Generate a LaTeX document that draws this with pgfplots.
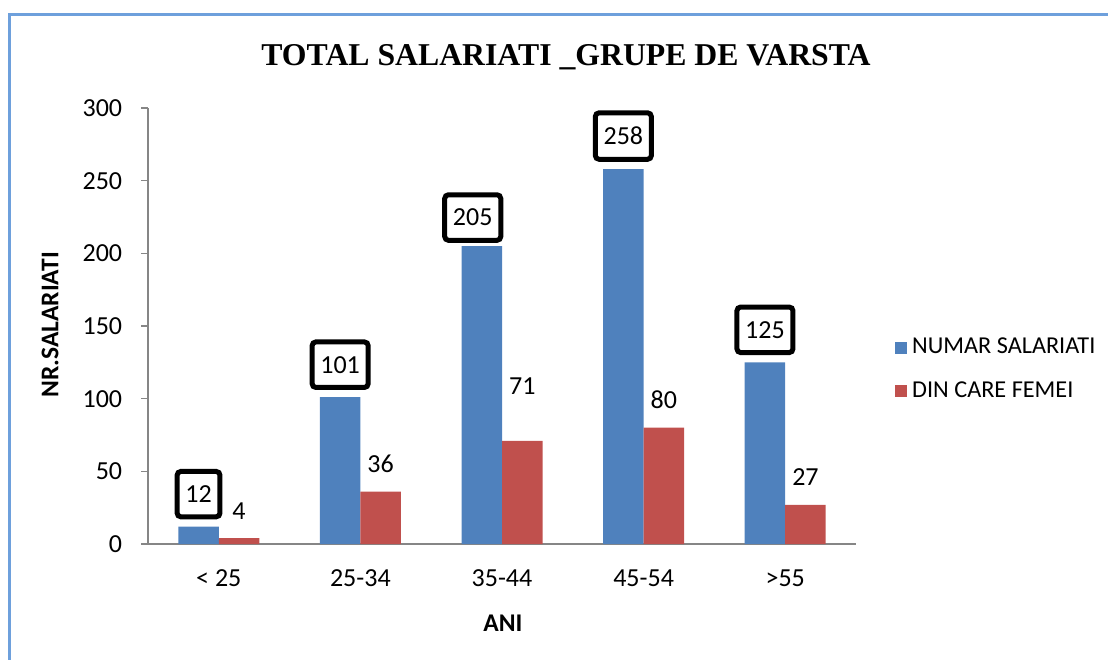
\documentclass[border=0pt]{standalone}
\usepackage{pgfplots}
\usepackage{pgfplotstable}
\pgfplotsset{compat=1.18}
\usepackage{fontspec}
\setmainfont{Carlito}
\newfontfamily\titlefont{Liberation Serif}
\definecolor{xblue}{RGB}{79,129,189}
\definecolor{xred}{RGB}{192,80,77}
\definecolor{axgray}{RGB}{134,134,134}
\definecolor{frameblue}{RGB}{110,160,220}
\pgfplotstableread{
x y dx dy
0 12 0 0
1 101 0 0
2 205 -3.6 -1.6
3 258 0 0
4 125 0 0
}\numar
\pgfplotstableread{
x y dx dy
0 4 0 0
1 36 0 0
2 71 0 10.8
3 80 0 0
4 27 0 0
}\femei
\begin{document}
\begin{tikzpicture}
\useasboundingbox (0,0) rectangle (443.2pt,-264pt);
\draw[frameblue, line width=1.2pt] (3.6pt,-264pt) -- (3.6pt,-6pt) -- (443.2pt,-6pt);
\node[font=\titlefont\fontsize{12.7}{15}\selectfont\bfseries] at (226.4pt,-23pt) {TOTAL SALARIATI \_GRUPE DE VARSTA};
\node[font=\fontsize{10.2}{12}\selectfont\bfseries, rotate=90] at (20pt,-130pt) {NR.SALARIATI};
\node[font=\fontsize{10.2}{12}\selectfont\bfseries] at (201.2pt,-249.4pt) {ANI};
\begin{axis}[
  at={(59.2pt,-217.6pt)}, anchor=south west,
  scale only axis, width=283.2pt, height=174.4pt,
  xmin=-0.5, xmax=4.5, ymin=0, ymax=300,
  axis x line*=bottom, axis y line*=left,
  axis line style={axgray, line width=0.6pt},
  every tick/.style={axgray, line width=0.6pt},
  tick align=outside,
  major tick length=2.8pt,
  ytick={0,50,...,300},
  xtick={0,1,2,3,4},
  xticklabels={< 25,25-34,35-44,45-54,>55},
  x tick style={draw=none},
  extra x ticks={-0.5,0.5,1.5,2.5,3.5,4.5},
  extra x tick labels={},
  extra x tick style={tick style={axgray, draw=axgray}, major tick length=2.8pt},
  tick label style={font=\fontsize{10.4}{12}\selectfont},
  /pgf/number format/assume math mode=true,
  yticklabel style={xshift=-4pt},
  xticklabel style={yshift=-3.8pt},
  ybar=0pt, bar width=16.2pt,
  legend style={draw=none, at={(1.044,0.4)}, anchor=west, font=\fontsize{9.7}{12}\selectfont, row sep=5.5pt, legend cell align=left},
  legend image code/.code={\fill[#1] (0pt,-2.4pt) rectangle (4.8pt,2.4pt);},
]
\addplot[fill=xblue, draw=none,
  visualization depends on={\thisrow{dx} \as \dx},
  visualization depends on={\thisrow{dy} \as \dy},
  nodes near coords,
  every node near coord/.append style={font=\fontsize{10.4}{12}\selectfont, text=black, draw=black, line width=2pt, rounded corners=1.5pt, fill=white, inner xsep=3.3pt, inner ysep=5.7pt, outer sep=0pt, anchor=south, yshift=3.9pt+\dy pt, xshift=\dx pt},
] table[x=x, y=y] {\numar};
\addplot[fill=xred, draw=none,
  visualization depends on={\thisrow{dx} \as \dx},
  visualization depends on={\thisrow{dy} \as \dy},
  nodes near coords,
  every node near coord/.append style={font=\fontsize{10.4}{12}\selectfont, text=black, inner sep=0pt, anchor=south, yshift=7.4pt+\dy pt, xshift=\dx pt},
] table[x=x, y=y] {\femei};
\legend{NUMAR SALARIATI, DIN CARE FEMEI}
\end{axis}
\end{tikzpicture}
\end{document}
